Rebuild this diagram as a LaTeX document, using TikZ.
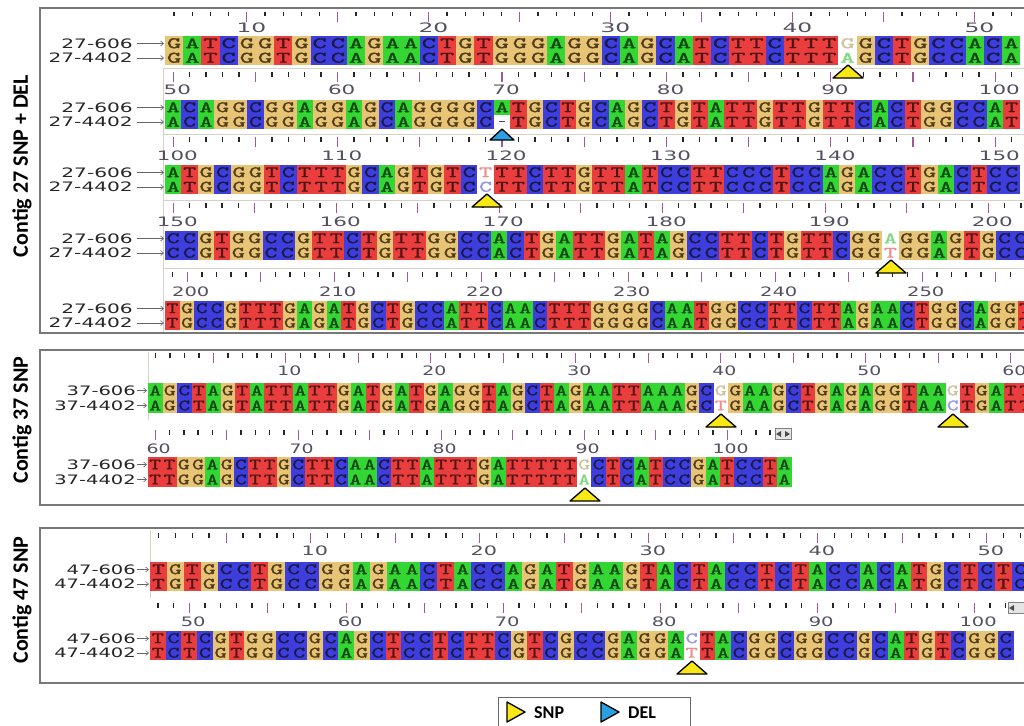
\documentclass[tikz,border=0pt]{standalone}
\usepackage{fontspec}
\usepackage{graphicx}
\setmainfont{Carlito}
\newfontfamily\namefont{DejaVu Sans}
\newfontfamily\seqfont{lmmono10-regular.otf}[FakeBold=1.2]
\definecolor{cA}{RGB}{52,214,52}
\definecolor{cC}{RGB}{62,62,222}
\definecolor{cG}{RGB}{232,196,118}
\definecolor{cT}{RGB}{234,62,62}
\definecolor{tA}{RGB}{20,70,20}
\definecolor{tC}{RGB}{25,25,70}
\definecolor{tG}{RGB}{80,60,25}
\definecolor{tT}{RGB}{80,20,20}
\definecolor{fA}{RGB}{130,215,130}
\definecolor{fC}{RGB}{150,150,230}
\definecolor{fG}{RGB}{205,195,160}
\definecolor{fT}{RGB}{240,140,140}
\definecolor{tickpurple}{RGB}{160,90,150}
\definecolor{labelgray}{RGB}{85,80,95}
\definecolor{framegray}{RGB}{120,120,120}
\definecolor{panelgray}{RGB}{215,210,200}
\definecolor{snpyellow}{RGB}{250,232,20}
\definecolor{delblue}{RGB}{40,160,225}
\newcount\seqi
\def\sqdefs#1#2#3#4{\expandafter\def\csname sqbg@#1\endcsname{#2}\expandafter\def\csname sqfg@#1\endcsname{#3}\expandafter\def\csname sqtx@#1\endcsname{#4}}
\sqdefs{A}{cA}{tA}{A}\sqdefs{C}{cC}{tC}{C}\sqdefs{G}{cG}{tG}{G}\sqdefs{T}{cT}{tT}{T}
\sqdefs{a}{white}{fA}{A}\sqdefs{c}{white}{fC}{C}\sqdefs{g}{white}{fG}{G}\sqdefs{t}{white}{fT}{T}
\sqdefs{-}{white}{black!70}{\rule{4pt}{1pt}}
\newcommand\seqrow[6]{\def\sqx{#1}\def\sqy{#2}\def\sqw{#3}\def\sqh{#4}\def\sqs{#5}\global\seqi=0 \sqparse#6\relax}
\def\sqparse#1{\ifx\relax#1\else\sqcell{#1}\global\advance\seqi by 1 \expandafter\sqparse\fi}
\def\sqcell#1{%
  \pgfmathsetmacro\sqcx{\sqx+\the\seqi*\sqw}%
  \edef\sqbg{\csname sqbg@#1\endcsname}\edef\sqfg{\csname sqfg@#1\endcsname}%
  \fill[fill=\sqbg] (\sqcx,\sqy) rectangle ++(\sqw,\sqh);
  \node[seqletter,text=\sqfg] at (\sqcx+\sqw/2,\sqy+\sqh/2) {\scalebox{\sqs}[1]{\csname sqtx@#1\endcsname}};
}
% #1 x0  #2 ytick  #3 w  #4 pstart  #5 pend  #6 ylabel  #7 label xscale
\newcommand\ruler[7]{%
  \foreach \p in {#4,...,#5}{%
    \pgfmathsetmacro\tx{#1+(\p-#4+0.5)*#3}%
    \pgfmathtruncatemacro\mfive{mod(\p,5)}%
    \pgfmathtruncatemacro\mten{mod(\p,10)}%
    \ifnum\mfive=0 \draw[majtick] (\tx,#2) -- ++(0,10);\else\draw[mintick] (\tx,#2) -- ++(0,4.5);\fi
    \ifnum\mten=0 \node[rulerlabel] at (\tx+0.25*#3,#6) {\scalebox{#7}[1]{\p}};\fi
  }}
\newcommand\snpmark[2]{\draw[snptri] (#1,#2) -- (#1-15,#2+13) -- (#1+15,#2+13) -- cycle;}
\newcommand\delmark[2]{\draw[deltri] (#1,#2) -- (#1-12,#2+11) -- (#1+12,#2+11) -- cycle;}
\tikzset{
  majtick/.style={draw=tickpurple, line width=1.1pt},
  mintick/.style={draw=black!85, line width=1.5pt},
  rulerlabel/.style={font=\namefont\fontsize{13}{13}\selectfont, text=labelgray, inner sep=0},
  seqletter/.style={font=\seqfont\fontsize{16}{16}\selectfont, inner sep=0},
  seqname/.style={font=\namefont\fontsize{13}{13}\selectfont, inner sep=0, anchor=east, text=black!85},
  namearrow/.style={draw=black!60, line width=0.6pt, -{Straight Barb[length=3pt,width=5pt]}},
  snptri/.style={fill=snpyellow, draw=black, line width=1.3pt, line join=round},
  deltri/.style={fill=delblue, draw=black, line width=1.3pt, line join=round},
  frame/.style={draw=framegray, line width=1.5pt},
  panel/.style={draw=panelgray, line width=1pt},
  vlabel/.style={font=\bfseries\fontsize{22}{22}\selectfont, rotate=90, inner sep=0},
  legendbox/.style={draw=black!60, line width=1pt, fill=white},
  legtext/.style={font=\bfseries\fontsize{18}{18}\selectfont, anchor=west, inner sep=0},
}
\usetikzlibrary{arrows.meta}
\begin{document}
\begin{tikzpicture}[x=1pt,y=-1pt]
\useasboundingbox (0,0) rectangle (1024,725);
\fill[white] (0,0) rectangle (1024,725);
% ---------------- Contig 27 ----------------
\node[vlabel] (lab27) at (22,166) {Contig 27 SNP + DEL};
\begin{scope}
\clip (40,8) rectangle (1024,334);
\foreach \yy in {68,134,200,268}{\draw[panel] (163,\yy) -- (1030,\yy);}
\foreach \yy/\hh in {68/66,134/66,200/68,268/64}{\draw[panel] (163,\yy) -- ++(0,\hh);}
\ruler{165}{12}{18.2}{6}{53}{28}{1.8}
\seqrow{165}{36}{18.2}{14.5}{1.7}{GATCGGTGCCAGAACTGTGGGAGGCAGCATCTTCTTTgGCTGCCACA}
\seqrow{165}{50.5}{18.2}{14.5}{1.7}{GATCGGTGCCAGAACTGTGGGAGGCAGCATCTTCTTTaGCTGCCACA}
\ruler{165}{72}{16.44}{50}{101}{90}{1.65}
\seqrow{165}{100}{16.44}{14.5}{1.55}{ACAGGCGGAGGAGCAGGGGCATGCTGCAGCTGTATTGTTGTTCACTGGCCAT}
\seqrow{165}{114.5}{16.44}{14.5}{1.55}{ACAGGCGGAGGAGCAGGGGC-TGCTGCAGCTGTATTGTTGTTCACTGGCCAT}
\ruler{165}{137}{16.44}{100}{151}{156}{1.65}
\seqrow{165}{165}{16.44}{14.5}{1.55}{ATGCGGTCTTTGCAGTGTCtTTCTTGTTATCCTTCCCTCCAGACCTGACTCC}
\seqrow{165}{179.5}{16.44}{14.5}{1.55}{ATGCGGTCTTTGCAGTGTCcTTCTTGTTATCCTTCCCTCCAGACCTGACTCC}
\ruler{165}{203}{16.3}{150}{203}{222}{1.65}
\seqrow{165}{231}{16.3}{14.5}{1.55}{CCGTGGCCGTTCTGTTGGCCACTGATTGATAGCCTTCTGTTCGGaGGAGTGCC}
\seqrow{165}{245.5}{16.3}{14.5}{1.55}{CCGTGGCCGTTCTGTTGGCCACTGATTGATAGCCTTCTGTTCGGtGGAGTGCC}
\ruler{165}{272}{14.7}{199}{258}{292}{1.5}
\seqrow{165}{301}{14.7}{14.5}{1.4}{TGCCGTTTGAGATGCTGCCATTCAACTTTGGGGCAATGGCCTTCTTAGAACTGGCAGGT}
\seqrow{165}{315.5}{14.7}{14.5}{1.4}{TGCCGTTTGAGATGCTGCCATTCAACTTTGGGGCAATGGCCTTCTTAGAACTGGCAGGT}
\end{scope}
\draw[frame] (1030,8) -- (40,8) -- (40,333) -- (1030,333);
\snpmark{848}{65}
\delmark{502}{129}
\snpmark{487}{194}
\snpmark{891}{260}
\foreach \yy/\nm in {36/606,100/606,165/606,231/606,301/606}{
  \node[seqname] (n\yy a) at (133,\yy+7.5) {\scalebox{1.55}[1]{27-\nm}};
  \coordinate (e\yy a) at (164,\yy+7.5);
  \draw[namearrow] (n\yy a.east) ++(4,0) -- (e\yy a);
  \node[seqname] (n\yy b) at (133,\yy+22) {\scalebox{1.55}[1]{27-4402}};
  \coordinate (e\yy b) at (164,\yy+22);
  \draw[namearrow] (n\yy b.east) ++(4,0) -- (e\yy b);
}
% ---------------- Contig 37 ----------------
\node[vlabel] (lab37) at (22,420) {Contig 37 SNP};
\begin{scope}
\clip (40,350) rectangle (1024,506);
\draw[panel] (148,352) -- (148,420);
\ruler{148}{353}{14.5}{1}{61}{371}{1.45}
\seqrow{148}{383}{14.5}{15}{1.4}{AGCTAGTATTATTGATGATGAGGTAGCTAGAATTAAAGCgGAAGCTGAGAGGTAAgTGATT}
\seqrow{148}{398}{14.5}{15}{1.4}{AGCTAGTATTATTGATGATGAGGTAGCTAGAATTAAAGCtGAAGCTGAGAGGTAAcTGATT}
\ruler{148}{430}{14.3}{60}{103}{449}{1.45}
\seqrow{148}{457}{14.3}{15}{1.4}{TTGGAGCTTGCTTCAACTTATTTGATTTTTgCTCATCCGATCCTA}
\seqrow{148}{472}{14.3}{15}{1.4}{TTGGAGCTTGCTTCAACTTATTTGATTTTTaCTCATCCGATCCTA}
\end{scope}
\draw[frame] (1030,350) -- (40,350) -- (40,505) -- (1030,505);
\node[draw=black!50, fill=black!10, minimum width=16, minimum height=11, inner sep=0] (icon37) at (783,434) {};
\fill[black!70] (776,434) -- (781,431) -- (781,437) -- cycle;
\fill[black!70] (790,434) -- (785,431) -- (785,437) -- cycle;
\snpmark{721}{414}
\snpmark{953}{414}
\snpmark{585}{488}
\foreach \yy in {383,457}{
  \node[seqname] (m\yy a) at (136,\yy+7.5) {\scalebox{1.5}[1]{37-606}};
  \coordinate (f\yy a) at (147,\yy+7.5);
  \draw[namearrow] (m\yy a.east) ++(1,0) -- (f\yy a);
  \node[seqname] (m\yy b) at (136,\yy+22.5) {\scalebox{1.5}[1]{37-4402}};
  \coordinate (f\yy b) at (147,\yy+22.5);
  \draw[namearrow] (m\yy b.east) ++(1,0) -- (f\yy b);
}
% ---------------- Contig 47 ----------------
\node[vlabel] (lab47) at (22,600) {Contig 47 SNP};
\begin{scope}
\clip (40,528) rectangle (1024,684);
\draw[panel] (150,530) -- (150,598);
\ruler{150}{533}{16.9}{1}{52}{551}{1.6}
\seqrow{150}{562}{16.9}{14.5}{1.5}{TGTGCCTGCCGGAGAACTACCAGATGAAGTACTACCTCTACCACATGCTCTC}
\seqrow{150}{576.5}{16.9}{14.5}{1.5}{TGTGCCTGCCGGAGAACTACCAGATGAAGTACTACCTCTACCACATGCTCTC}
\ruler{150}{603}{15.7}{48}{102}{622}{1.5}
\seqrow{150}{631}{15.7}{14.5}{1.45}{TCTCGTGGCCGCAGCTCCTCTTCGTCGCCGAGGAcTACGGCGGCCGCATGTCGGC}
\seqrow{150}{645.5}{15.7}{14.5}{1.45}{TCTCGTGGCCGCAGCTCCTCTTCGTCGCCGAGGAtTACGGCGGCCGCATGTCGGC}
\end{scope}
\draw[frame] (1030,528) -- (40,528) -- (40,683) -- (1030,683);
\node[draw=black!50, fill=black!10, minimum width=16, minimum height=11, inner sep=0] (icon47) at (1016,608) {};
\fill[black!70] (1009,608) -- (1014,605) -- (1014,611) -- cycle;
\snpmark{692}{661}
\foreach \yy in {562,631}{
  \node[seqname] (k\yy a) at (136,\yy+7.5) {\scalebox{1.5}[1]{47-606}};
  \coordinate (g\yy a) at (149,\yy+7.5);
  \draw[namearrow] (k\yy a.east) ++(1,0) -- (g\yy a);
  \node[seqname] (k\yy b) at (136,\yy+22) {\scalebox{1.5}[1]{47-4402}};
  \coordinate (g\yy b) at (149,\yy+22);
  \draw[namearrow] (k\yy b.east) ++(1,0) -- (g\yy b);
}
% ---------------- Legend ----------------
\draw[legendbox] (498,697) rectangle (690,730);
\draw[snptri] (507,702) -- (525,712) -- (507,722) -- cycle;
\node[legtext] (legsnp) at (534,713) {SNP};
\draw[deltri] (601,702) -- (619,712) -- (601,722) -- cycle;
\node[legtext] (legdel) at (628,713) {DEL};
\end{tikzpicture}
\end{document}
